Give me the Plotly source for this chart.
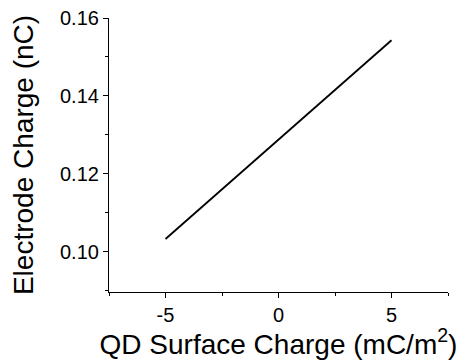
import plotly.graph_objects as go

# Data
qd_surface_charge = [-5, 0, 5]            # mC/m^2
electrode_charge = [0.1033, 0.1288, 0.1543]  # nC

FONT = "Liberation Sans, Arial, sans-serif"

fig = go.Figure()
fig.add_trace(go.Scatter(
    x=qd_surface_charge, y=electrode_charge, mode="lines",
    line=dict(color="black", width=1.8), showlegend=False,
))

fig.update_layout(
    width=462, height=360,
    margin=dict(l=109, r=14, t=18, b=68),
    paper_bgcolor="white", plot_bgcolor="white",
    font=dict(family=FONT, color="black"),
)

fig.update_xaxes(
    range=[-7.5, 7.5], tickvals=[-5, 0, 5], ticktext=["-5", "0", "5"],
    showgrid=False, zeroline=False, showline=True, linecolor="black", linewidth=1.2,
    ticks="outside", ticklen=5, tickwidth=1.2, tickcolor="black",
    tickfont=dict(size=20, family=FONT),
    minor=dict(tickvals=[-7.5, -2.5, 2.5, 7.5], ticks="outside", ticklen=3, tickwidth=1.2, tickcolor="black"),
    title=dict(text="QD Surface Charge (mC/m<sup>2</sup>)", font=dict(size=28, family=FONT), standoff=3),
    automargin=False,
)
fig.update_yaxes(
    range=[0.0897, 0.16], tickvals=[0.10, 0.12, 0.14, 0.16], ticktext=["0.10", "0.12", "0.14", "0.16"],
    showgrid=False, zeroline=False, showline=True, linecolor="black", linewidth=1.2,
    ticks="outside", ticklen=5, tickwidth=1.2, tickcolor="black",
    tickfont=dict(size=20, family=FONT),
    minor=dict(tickvals=[0.09, 0.11, 0.13, 0.15], ticks="outside", ticklen=3, tickwidth=1.2, tickcolor="black"),
    title=dict(text="Electrode Charge (nC)", font=dict(size=28, family=FONT), standoff=18),
    automargin=False,
)

fig.write_html("out.html")
